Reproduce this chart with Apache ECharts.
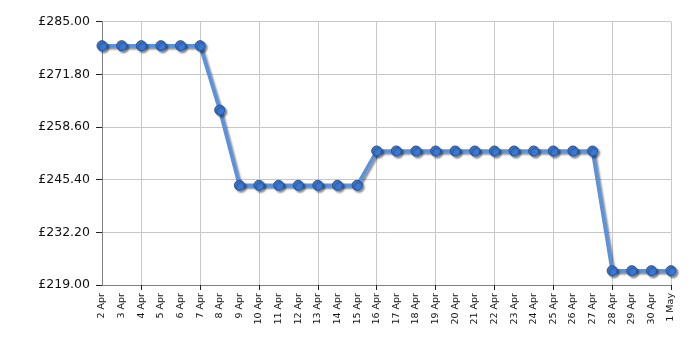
<!DOCTYPE html>
<html>
<head>
<meta charset="utf-8">
<script src="https://cdn.jsdelivr.net/npm/echarts@6/dist/echarts.min.js"></script>
<style>html,body{margin:0;padding:0;background:#fff}#c{width:700px;height:350px}</style>
</head>
<body>
<div id="c"></div>
<script>
const categories = ['2 Apr','3 Apr','4 Apr','5 Apr','6 Apr','7 Apr','8 Apr','9 Apr','10 Apr','11 Apr','12 Apr','13 Apr','14 Apr','15 Apr','16 Apr','17 Apr','18 Apr','19 Apr','20 Apr','21 Apr','22 Apr','23 Apr','24 Apr','25 Apr','26 Apr','27 Apr','28 Apr','29 Apr','30 Apr','1 May'];
const prices = [278.99,278.99,278.99,278.99,278.99,278.99,262.85,243.99,243.99,243.99,243.99,243.99,243.99,243.99,252.59,252.59,252.59,252.59,252.59,252.59,252.59,252.59,252.59,252.59,252.59,252.59,222.59,222.59,222.59,222.59];
const yTicks = [219.00, 232.20, 245.40, 258.60, 271.80, 285.00];

const chart = echarts.init(document.getElementById('c'), null, {renderer: 'canvas'});
const gridEvery = (i) => (i - 2) % 3 === 0;
chart.setOption({
  animation: false,
  grid: {left: 102, right: 29, top: 21.7, bottom: 65, containLabel: false},
  xAxis: {
    type: 'category',
    data: categories,
    boundaryGap: false,
    axisLine: {lineStyle: {color: '#808080', width: 1}},
    axisTick: {show: true, interval: gridEvery, length: 5, lineStyle: {color: '#222'}},
    splitLine: {show: true, interval: gridEvery, lineStyle: {color: '#c8c8c8', width: 1}},
    axisLabel: {interval: 0, rotate: 90, margin: 8, fontFamily: 'DejaVu Sans', fontSize: 9.5, color: '#111'}
  },
  yAxis: {
    type: 'value',
    min: yTicks[0],
    max: yTicks[yTicks.length - 1],
    axisLine: {show: true, lineStyle: {color: '#808080', width: 1}},
    axisTick: {show: true, customValues: yTicks, length: 6, lineStyle: {color: '#222'}},
    splitLine: {show: true, lineStyle: {color: '#c8c8c8', width: 1}},
    axisLabel: {customValues: yTicks, margin: 12, fontFamily: 'DejaVu Sans', fontSize: 12.5, color: '#111',
      formatter: v => '£' + v.toFixed(2)}
  },
  series: [{
    type: 'line',
    data: prices,
    symbol: 'circle',
    symbolSize: 10,
    lineStyle: {color: '#5893e2', width: 3.5, shadowColor: 'rgba(0,0,0,0.45)', shadowBlur: 2, shadowOffsetX: 2, shadowOffsetY: 2},
    itemStyle: {color: '#3b78d4', borderColor: '#23549c', borderWidth: 1, shadowColor: 'rgba(0,0,0,0.45)', shadowBlur: 2, shadowOffsetX: 2, shadowOffsetY: 2},
    z: 3
  }]
});
</script>
</body>
</html>
